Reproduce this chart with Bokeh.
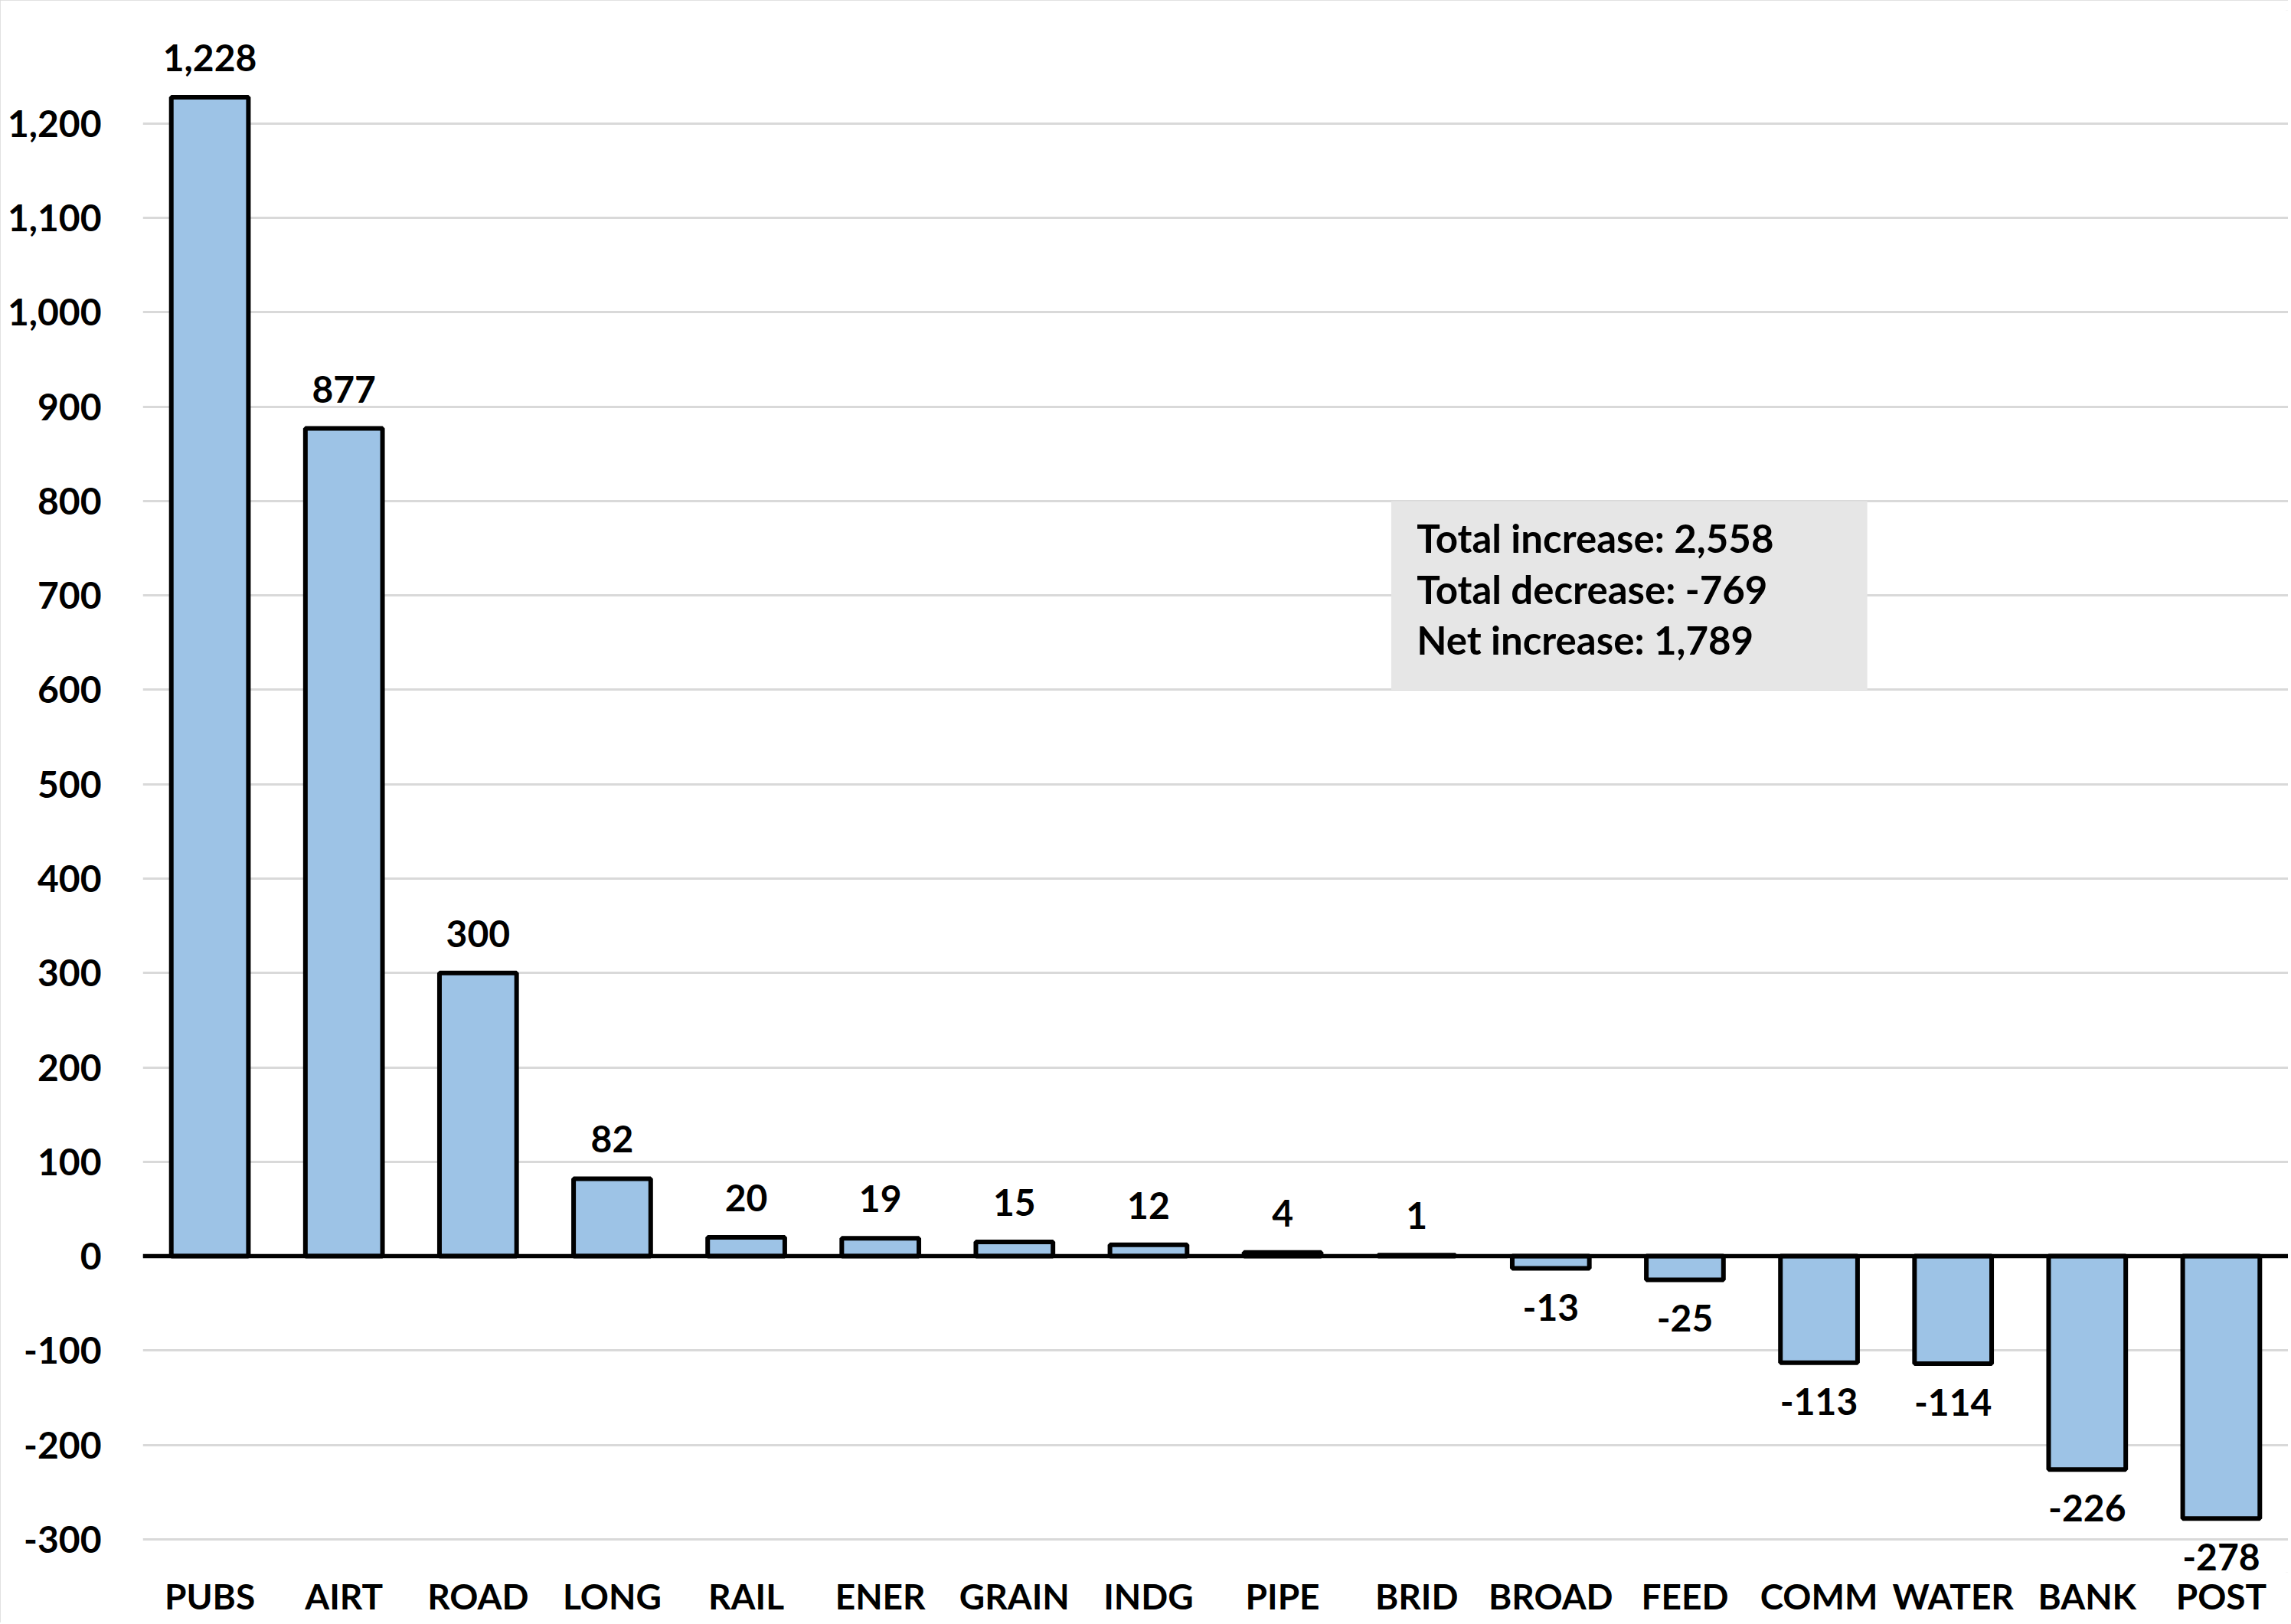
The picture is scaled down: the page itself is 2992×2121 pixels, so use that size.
from bokeh.plotting import figure
from bokeh.models import (FactorRange, Range1d, FixedTicker, NumeralTickFormatter,
                          Span, BoxAnnotation, Label, LabelSet, ColumnDataSource)
from bokeh.core.properties import value
from bokeh.embed import file_html
from bokeh.resources import INLINE

categories = ["PUBS", "AIRT", "ROAD", "LONG", "RAIL", "ENER", "GRAIN", "INDG",
              "PIPE", "BRID", "BROAD", "FEED", "COMM", "WATER", "BANK", "POST"]
values = [1228, 877, 300, 82, 20, 19, 15, 12, 4, 1, -13, -25, -113, -114, -226, -278]
y_ticks = [-300, -200, -100, 0, 100, 200, 300, 400, 500, 600, 700, 800, 900, 1000, 1100, 1200]

FONT = "Lato"

total_inc = sum(v for v in values if v > 0)
total_dec = sum(v for v in values if v < 0)
net = total_inc + total_dec

p = figure(x_range=FactorRange(*categories), y_range=Range1d(-335, 1320),
           width=2988, height=2119, output_backend="svg", toolbar_location=None,
           min_border_left=186, min_border_right=0, min_border_top=13, min_border_bottom=66)
p.outline_line_color = None
p.background_fill_color = "white"
p.styles = {"outline": "3px solid #d9d9d9", "outline-offset": "-3px"}
p.xgrid.visible = False
p.ygrid.grid_line_color = "#d9d9d9"
p.ygrid.grid_line_width = 3

p.yaxis.ticker = FixedTicker(ticks=y_ticks)
p.yaxis.formatter = NumeralTickFormatter(format="0,0")
for ax in (p.xaxis[0], p.yaxis[0]):
    ax.axis_line_color = None
    ax.major_tick_line_color = None
    ax.minor_tick_line_color = None
    ax.major_tick_out = 0
    ax.major_tick_in = 0
    ax.major_label_text_font = FONT
    ax.major_label_text_font_style = "bold"
    ax.major_label_text_color = "black"
p.yaxis.major_label_text_font_size = "48px"
p.xaxis.major_label_text_font_size = "46px"
p.yaxis.major_label_standoff = 54
p.xaxis.major_label_standoff = 3

src = ColumnDataSource(dict(cat=categories, val=values))
p.vbar(x="cat", top="val", bottom=0, width=0.575, fill_color="#9DC3E6",
       line_color="black", line_width=6, source=src)

p.add_layout(Span(location=0, dimension="width", line_color="black", line_width=5.5))

pos = [(c, v) for c, v in zip(categories, values) if v >= 0]
neg = [(c, v) for c, v in zip(categories, values) if v < 0]
pos_src = ColumnDataSource(dict(cat=[c for c, _ in pos], val=[v for _, v in pos],
                                txt=[f"{v:,}" for _, v in pos]))
neg_src = ColumnDataSource(dict(cat=[c for c, _ in neg], val=[v for _, v in neg],
                                txt=[f"{v:,}" for _, v in neg]))
common = dict(text_font=value(FONT), text_font_style="bold", text_font_size="48px",
              text_color="black", text_align="center", text_baseline="alphabetic")
p.add_layout(LabelSet(x="cat", y="val", text="txt", y_offset=34, source=pos_src, **common))
p.add_layout(LabelSet(x="cat", y="val", text="txt", y_offset=-68, source=neg_src, **common))

p.add_layout(BoxAnnotation(left=9.31, right=12.86, bottom=600, top=800,
                           fill_color="#e6e6e6", fill_alpha=1.0, line_color=None))
lines = [f"Total increase: {total_inc:,}", f"Total decrease: {total_dec:,}",
         f"Net increase: {net:,}"]
ys = [761, 707, 653]
for t, yy in zip(lines, ys):
    p.add_layout(Label(x=9.5, y=yy, text=t, text_font=FONT, text_font_style="bold",
                       text_font_size="51px", text_color="black", text_baseline="alphabetic"))

open("out.html", "w").write(file_html(p, INLINE))
